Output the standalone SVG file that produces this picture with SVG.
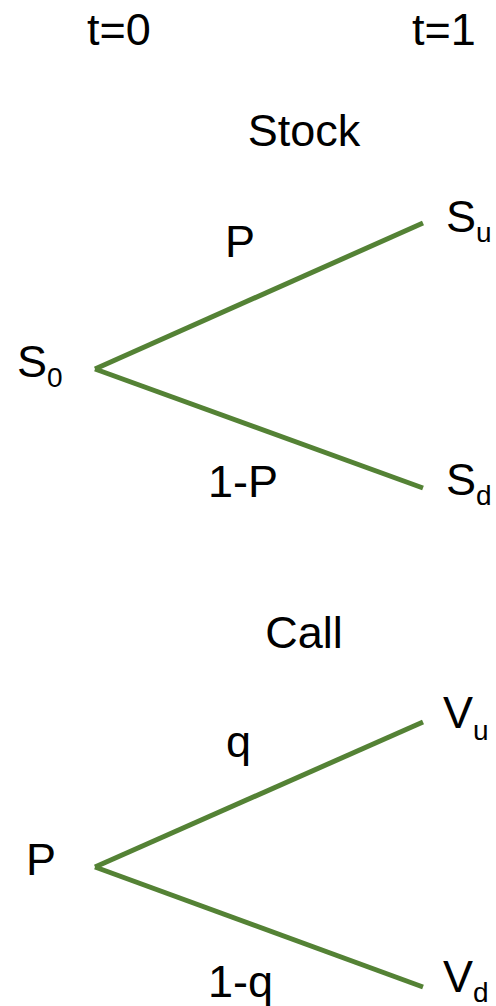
<svg xmlns="http://www.w3.org/2000/svg" width="496" height="1006" viewBox="0 0 496 1006">
<style>
text{font-family:"Liberation Sans","DejaVu Sans",sans-serif;font-size:45px;fill:#000}
.sub{font-size:28px}
.edge{stroke:#548235;stroke-width:5;fill:none;stroke-linecap:butt}
</style>
<rect width="496" height="1006" fill="#fff"/>
<g id="headers">
<text x="87" y="45">t=0</text>
<text x="412" y="45">t=1</text>
</g>
<g id="stock-title"><text x="304" y="146" text-anchor="middle">Stock</text></g>
<g id="node-S0"><text x="17" y="377">S<tspan class="sub" dy="10">0</tspan></text></g>
<g id="node-Su"><text x="446" y="232">S<tspan class="sub" dy="10">u</tspan></text></g>
<g id="node-Sd"><text x="446" y="495">S<tspan class="sub" dy="10">d</tspan></text></g>
<g id="call-title"><text x="304" y="648" text-anchor="middle">Call</text></g>
<g id="node-P"><text x="26" y="875">P</text></g>
<g id="node-Vu"><text x="443" y="728">V<tspan class="sub" dy="12">u</tspan></text></g>
<g id="node-Vd"><text x="443" y="992">V<tspan class="sub" dy="10">d</tspan></text></g>
<g id="connectors">
<path class="edge" d="M95 369 L423 223"/>
<path class="edge" d="M95 369 L423 488"/>
<path class="edge" d="M95 867 L423 722"/>
<path class="edge" d="M95 867 L423 987"/>
</g>
<g id="edge-labels">
<text x="225" y="257">P</text>
<text x="208" y="497">1-P</text>
<text x="226" y="757">q</text>
<text x="208" y="997">1-q</text>
</g>
</svg>
